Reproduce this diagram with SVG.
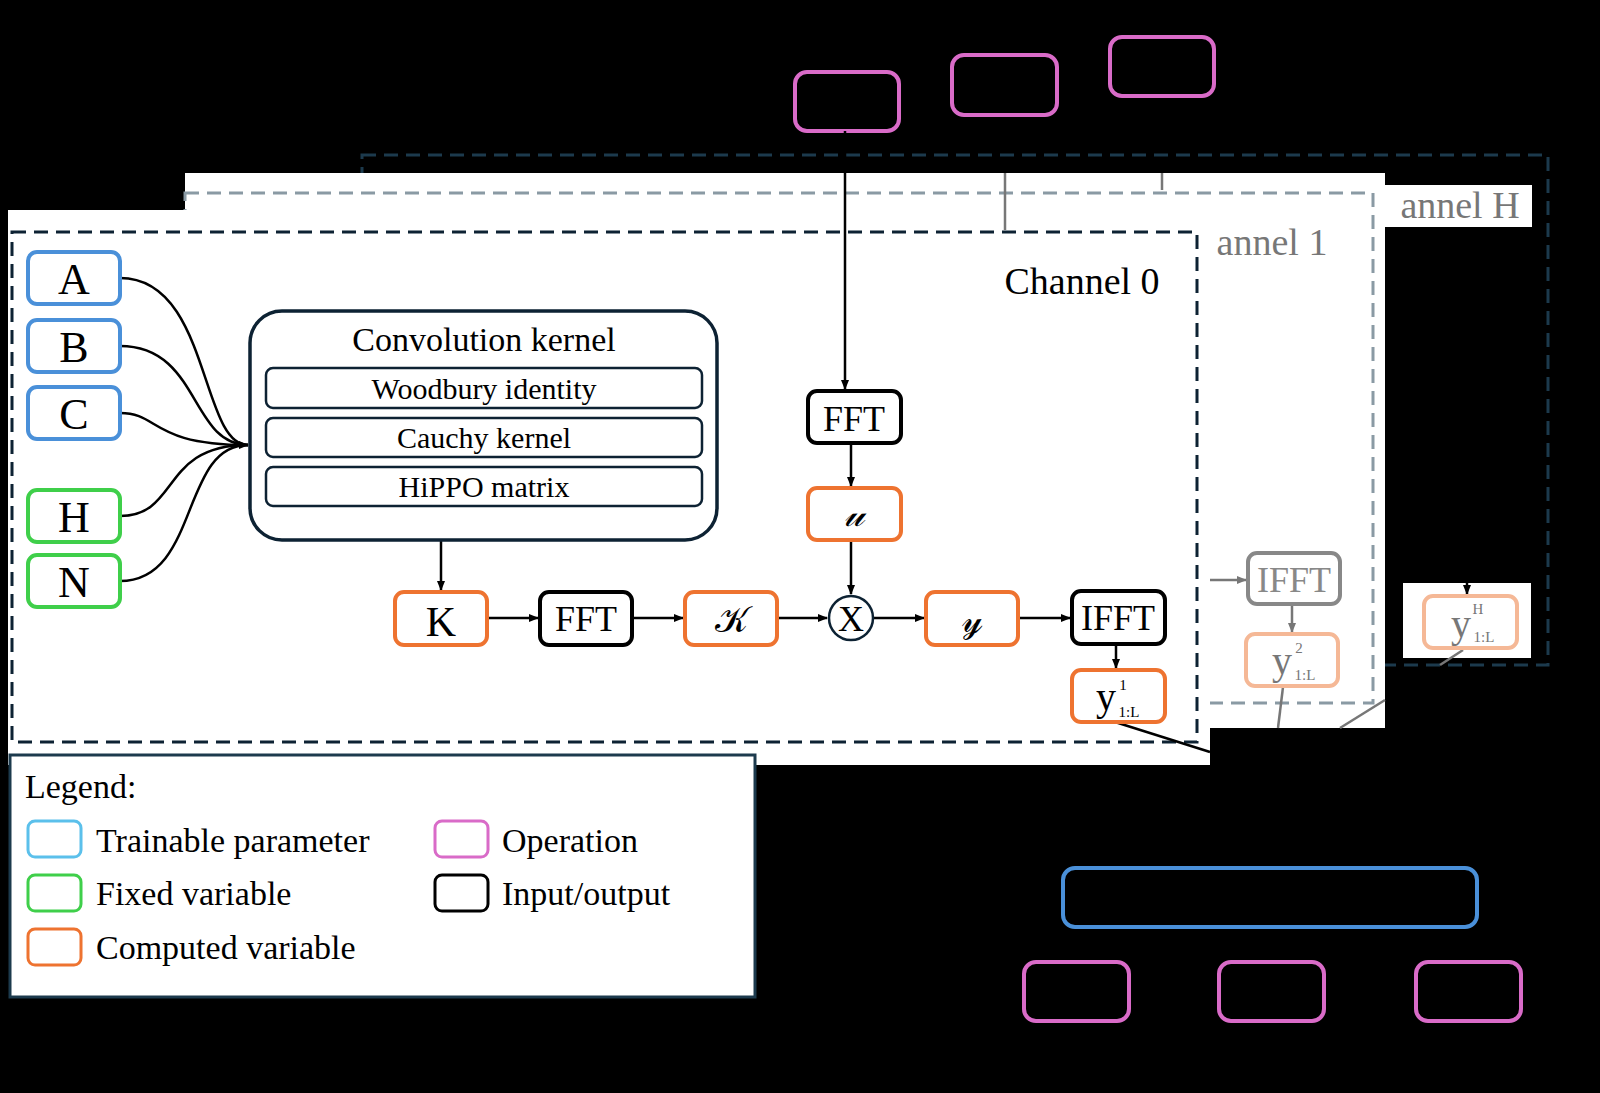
<svg xmlns="http://www.w3.org/2000/svg" width="1600" height="1093" viewBox="0 0 1600 1093">
<defs>
<marker id="ar" markerWidth="10" markerHeight="10" refX="9" refY="5" orient="auto" markerUnits="userSpaceOnUse"><path d="M0,1 L10,5 L0,9 z" fill="#000"/></marker>
<marker id="ag" markerWidth="10" markerHeight="10" refX="9" refY="5" orient="auto" markerUnits="userSpaceOnUse"><path d="M0,1 L10,5 L0,9 z" fill="#777"/></marker>
<style>
text{font-family:"Liberation Serif","DejaVu Serif",serif;fill:#000;text-anchor:middle}
.n{fill:#fff;stroke-width:4}
.bl{stroke:#4a90d9}.gr{stroke:#3fcf4a}.or{stroke:#ee7330}.bk{stroke:#000}.pk{stroke:#d96bc8;fill:none;stroke-width:4}
.c{fill:none;stroke:#000;stroke-width:2.5}
.g{fill:none;stroke:#777;stroke-width:2.5}
</style>
</defs>
<rect width="1600" height="1093" fill="#000"/>
<g id="channelH">
<rect x="362" y="155" width="1186" height="510" fill="none" stroke="#1c3a4d" stroke-width="3" stroke-dasharray="14,8"/>
<rect x="1372" y="185" width="160" height="42" fill="#fff"/>
<text x="1460" y="218" font-size="38" style="fill:#777">annel H</text>
<rect x="1403" y="583" width="128" height="75" fill="#fff"/>
</g>
<g id="channel1">
<rect x="185" y="173" width="1200" height="555" fill="#fff"/>
<rect x="185" y="193" width="1188" height="510" fill="none" stroke="#8a9aa4" stroke-width="3" stroke-dasharray="14,8"/>
<text x="1272" y="255" font-size="38" style="fill:#777">annel 1</text>
</g>
<g id="channel0">
<rect x="8" y="210" width="1202" height="555" fill="#fff"/>
<rect x="12" y="232" width="1185" height="510" fill="none" stroke="#0d2233" stroke-width="3" stroke-dasharray="14,8"/>
<text x="1082" y="294" font-size="38">Channel 0</text>
</g>
<g id="ops-top">
<rect x="795" y="72" width="104" height="59" rx="12" class="pk"/>
<rect x="952" y="55" width="105" height="60" rx="12" class="pk"/>
<rect x="1110" y="37" width="104" height="59" rx="12" class="pk"/>
</g>
<g id="connectors">
<path d="M845,131 V389" class="c" marker-end="url(#ar)"/>
<path d="M1005,173 V230" class="g"/>
<path d="M1162,173 V190" class="g"/>
<path d="M120,278 C210,278 200,445 248,445" class="c" marker-end="url(#ar)"/>
<path d="M120,346 C200,346 190,445 248,445" class="c"/>
<path d="M120,413 C160,413 150,445 248,445" class="c"/>
<path d="M120,516 C180,516 160,445 248,445" class="c"/>
<path d="M120,581 C200,581 180,445 248,445" class="c"/>
<path d="M441,540 V590" class="c" marker-end="url(#ar)"/>
<path d="M487,618 H538" class="c" marker-end="url(#ar)"/>
<path d="M632,618 H683" class="c" marker-end="url(#ar)"/>
<path d="M777,618 H827" class="c" marker-end="url(#ar)"/>
<path d="M851,443 V486" class="c" marker-end="url(#ar)"/>
<path d="M851,540 V594" class="c" marker-end="url(#ar)"/>
<path d="M873,618 H924" class="c" marker-end="url(#ar)"/>
<path d="M1018,618 H1070" class="c" marker-end="url(#ar)"/>
<path d="M1116,644 V668" class="c" marker-end="url(#ar)"/>
<path d="M1115,722 L1210,752" class="c"/>
<path d="M1210,580 H1246" class="g" marker-end="url(#ag)"/>
<path d="M1292,604 V632" class="g" marker-end="url(#ag)"/>
<path d="M1283,687 L1278,728" class="g"/>
<path d="M1385,700 L1340,728" class="g"/>
<path d="M1463,650 L1440,665" class="g"/>
<path d="M1467,583 V594" class="c" marker-end="url(#ar)"/>
</g>
<g id="params">
<rect x="28" y="252" width="92" height="52" rx="9" class="n bl"/><text x="74" y="294" font-size="44">A</text>
<rect x="28" y="320" width="92" height="52" rx="9" class="n bl"/><text x="74" y="362" font-size="44">B</text>
<rect x="28" y="387" width="92" height="52" rx="9" class="n bl"/><text x="74" y="429" font-size="44">C</text>
<rect x="28" y="490" width="92" height="52" rx="9" class="n gr"/><text x="74" y="532" font-size="44">H</text>
<rect x="28" y="555" width="92" height="52" rx="9" class="n gr"/><text x="74" y="597" font-size="44">N</text>
</g>
<g id="kernel">
<rect x="250" y="311" width="467" height="229" rx="32" fill="#fff" stroke="#0d2233" stroke-width="3.5"/>
<text x="484" y="351" font-size="34">Convolution kernel</text>
<rect x="266" y="368" width="436" height="40" rx="7" fill="#fff" stroke="#0d2233" stroke-width="2.5"/><text x="484" y="399" font-size="30">Woodbury identity</text>
<rect x="266" y="418" width="436" height="39" rx="7" fill="#fff" stroke="#0d2233" stroke-width="2.5"/><text x="484" y="448" font-size="30">Cauchy kernel</text>
<rect x="266" y="467" width="436" height="39" rx="7" fill="#fff" stroke="#0d2233" stroke-width="2.5"/><text x="484" y="497" font-size="30">HiPPO matrix</text>
</g>
<g id="pipeline">
<rect x="808" y="391" width="93" height="52" rx="9" class="n bk"/><text x="854" y="431" font-size="36">FFT</text>
<rect x="808" y="488" width="93" height="52" rx="9" class="n or"/><text x="854" y="526" font-size="36" font-style="italic">𝓊</text>
<rect x="395" y="592" width="92" height="53" rx="9" class="n or"/><text x="441" y="636" font-size="42">K</text>
<rect x="540" y="592" width="92" height="53" rx="9" class="n bk"/><text x="586" y="631" font-size="36">FFT</text>
<rect x="685" y="592" width="92" height="53" rx="9" class="n or"/><text x="731" y="632" font-size="36">𝒦</text>
<circle cx="851" cy="618" r="22" fill="#fff" stroke="#0d2233" stroke-width="2.5"/><text x="851" y="631" font-size="36">X</text>
<rect x="926" y="592" width="92" height="53" rx="9" class="n or"/><text x="972" y="632" font-size="36">𝓎</text>
<rect x="1072" y="591" width="93" height="53" rx="9" class="n bk"/><text x="1118" y="630" font-size="36">IFFT</text>
<rect x="1072" y="670" width="93" height="52" rx="9" class="n or"/><text x="1106" y="710" font-size="40">y</text><text x="1123" y="690" font-size="15">1</text><text x="1129" y="717" font-size="15">1:L</text>
<rect x="1248" y="553" width="92" height="51" rx="9" class="n" stroke="#888"/><text x="1294" y="592" font-size="36" style="fill:#888">IFFT</text>
<rect x="1246" y="634" width="92" height="52" rx="9" class="n" stroke="#f5b896"/><text x="1282" y="674" font-size="40" style="fill:#777">y</text><text x="1299" y="653" font-size="15" style="fill:#777">2</text><text x="1305" y="680" font-size="15" style="fill:#777">1:L</text>
<rect x="1424" y="596" width="93" height="52" rx="9" class="n" stroke="#f5b896"/><text x="1461" y="637" font-size="40" style="fill:#777">y</text><text x="1478" y="614" font-size="15" style="fill:#777">H</text><text x="1484" y="642" font-size="15" style="fill:#777">1:L</text>
</g>
<g id="bottom">
<rect x="1063" y="868" width="414" height="59" rx="12" fill="none" stroke="#4a90d9" stroke-width="4"/>
<rect x="1024" y="962" width="105" height="59" rx="12" class="pk"/>
<rect x="1219" y="962" width="105" height="59" rx="12" class="pk"/>
<rect x="1416" y="962" width="105" height="59" rx="12" class="pk"/>
</g>
<g id="legend">
<rect x="10" y="755" width="745" height="242" fill="#fff" stroke="#1c3a4d" stroke-width="3"/>
<text x="25" y="798" font-size="34" style="text-anchor:start">Legend:</text>
<rect x="28" y="821" width="53" height="36" rx="7" fill="none" stroke="#5bc0eb" stroke-width="3"/><text x="96" y="852" font-size="34" style="text-anchor:start">Trainable parameter</text>
<rect x="28" y="875" width="53" height="36" rx="7" fill="none" stroke="#3fcf4a" stroke-width="3"/><text x="96" y="905" font-size="34" style="text-anchor:start">Fixed variable</text>
<rect x="28" y="929" width="53" height="36" rx="7" fill="none" stroke="#ee7330" stroke-width="3"/><text x="96" y="959" font-size="34" style="text-anchor:start">Computed variable</text>
<rect x="435" y="821" width="53" height="36" rx="7" fill="none" stroke="#d96bc8" stroke-width="3"/><text x="502" y="852" font-size="34" style="text-anchor:start">Operation</text>
<rect x="435" y="875" width="53" height="36" rx="7" fill="none" stroke="#000" stroke-width="3"/><text x="502" y="905" font-size="34" style="text-anchor:start">Input/output</text>
</g>
</svg>
